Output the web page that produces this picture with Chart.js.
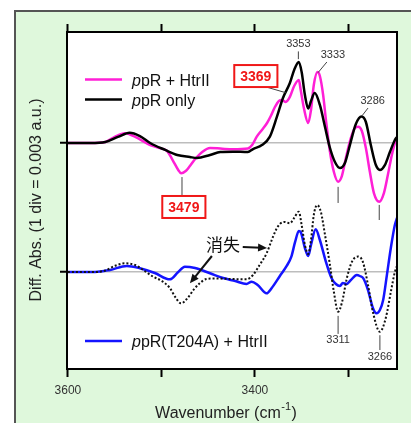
<!DOCTYPE html>
<html>
<head>
<meta charset="utf-8">
<script src="https://cdn.jsdelivr.net/npm/chart.js@4.4.0/dist/chart.umd.min.js"></script>
<style>
  html, body { margin: 0; padding: 0; background: #fff; overflow: hidden; }
  #panel { position: absolute; left: 14px; top: 10px; width: 395px; height: 411px;
           background: #dff8dc; border-left: 2px solid #555; border-top: 2px solid #555; }
  #wrap { position: absolute; left: 0; top: 0; width: 411px; height: 423px; }
</style>
</head>
<body>
<div id="panel"></div>
<div id="wrap"><canvas id="c" width="411" height="423"></canvas></div>
<script>
// wavenumber (cm-1) and difference absorbance in divisions (1 div = 0.003 a.u.)
// upper pair is plotted on the baseline at 1 div, lower pair on 0
const xTicks = [3600, 3500, 3400, 3300]
const xTickLabels = ['3600', '', '3400', '']
const yTicks = [0, 1]

const ppROnlyWn = [3600,3576,3560,3546.5,3534,3523,3512,3496,3483,3469.5,3462,3448,3437,3423.5,3407.5,3402,3392.5,3384,3376.5,3370,3362.6,3358,3353,3350,3346.5,3343,3340,3336,3330.5,3325,3320,3314.4,3309,3303.7,3298.4,3292,3286,3281.3,3276,3270.6,3266.3,3261,3255.6,3250.3,3248]
const ppROnlyAbs = [1.00,1.00,1.008,1.047,1.080,1.054,1.000,0.946,0.907,0.891,0.884,0.907,0.930,0.933,0.930,0.953,0.984,1.049,1.202,1.349,1.465,1.566,1.628,1.550,1.372,1.267,1.326,1.388,1.295,1.124,0.969,0.853,0.806,0.845,0.984,1.147,1.205,1.163,0.984,0.829,0.791,0.829,0.930,1.023,1.047]

const ppRHtrIIWn = [3600,3576,3560,3550,3539,3528,3512,3502,3494,3488,3482,3479,3474,3469.5,3463,3456,3448,3437,3423.5,3407.5,3403,3398,3392.5,3387,3383,3378.6,3374.3,3371,3367,3362.6,3358,3353,3351,3347.6,3343,3340,3337,3333,3330.5,3327,3324,3320,3315.5,3311,3307,3302.7,3297.3,3293,3289.5,3285.6,3281.3,3277,3272.7,3267,3262,3257.8,3253.5,3250.3,3248]
const ppRHtrIIAbs = [1.00,1.00,1.008,1.047,1.075,1.047,0.984,0.961,0.938,0.868,0.791,0.765,0.783,0.822,0.884,0.933,0.961,0.957,0.951,0.957,0.984,1.049,1.101,1.155,1.209,1.279,1.326,1.333,1.318,1.357,1.442,1.488,1.411,1.271,1.155,1.256,1.450,1.550,1.519,1.372,1.178,0.946,0.775,0.700,0.744,0.884,1.039,1.116,1.126,1.093,0.961,0.775,0.612,0.545,0.612,0.752,0.907,1.000,1.039]

const dottedWn = [3600,3571,3560,3550,3539,3528,3518,3509,3499.5,3491,3484.5,3479,3472,3465,3459,3452,3443,3427,3409,3402,3395,3387.5,3382,3377.5,3373.3,3368,3362.6,3358,3353,3350,3346.5,3343,3340,3337,3333.4,3329.4,3325,3320,3315.5,3311,3307,3301.6,3296.3,3289.5,3284.5,3279,3273.8,3266.3,3260,3254.6,3250.3,3248]
const dottedAbs = [0,0,0.012,0.047,0.067,0.054,0.008,-0.036,-0.070,-0.124,-0.202,-0.243,-0.202,-0.132,-0.088,-0.054,-0.050,-0.054,-0.057,-0.023,0.054,0.145,0.248,0.326,0.372,0.388,0.378,0.419,0.467,0.364,0.209,0.140,0.248,0.442,0.519,0.465,0.287,0.067,-0.155,-0.308,-0.240,-0.047,0.078,0.120,0.078,-0.101,-0.310,-0.463,-0.357,-0.155,0.000,0.047]

const t204aWn = [3600,3571,3555,3537,3523,3507,3491,3482,3475,3464,3448,3434,3421,3409,3403.5,3397,3387.5,3382,3373.3,3366,3361,3357,3353,3351,3346.5,3343,3340,3335,3330.5,3324,3318,3313.4,3309,3306,3302,3297.3,3291,3287.7,3284,3279,3273.8,3270,3266.3,3262.8,3258.8,3254.6,3250.3,3248]
const t204aAbs = [0,0,0.016,0.047,0.029,-0.008,-0.057,0,0.041,0.031,-0.010,-0.047,-0.070,-0.093,-0.075,-0.101,-0.165,-0.124,-0.031,0.047,0.119,0.233,0.318,0.310,0.186,0.124,0.209,0.331,0.248,0.078,-0.049,-0.093,-0.109,-0.085,-0.093,-0.062,-0.023,-0.031,-0.049,-0.140,-0.279,-0.320,-0.295,-0.217,-0.023,0.186,0.364,0.419]

// peak labels: text position and leader line, in data coordinates
const peakLabels = [
    { text: '3353', at: [3353.5, 1.765], line: [[3353.5, 1.71], [3353.5, 1.65]] },
    { text: '3333', at: [3316.5, 1.680], line: [[3323, 1.628], [3332.5, 1.545]] },
    { text: '3286', at: [3274, 1.322], line: [[3279, 1.271], [3285.5, 1.21]] },
    { text: '3311', at: [3311, -0.53], line: [[3311, -0.34], [3311, -0.48]] },
    { text: '3266', at: [3266.3, -0.655], line: [[3266.3, -0.49], [3266.3, -0.605]] },
    { text: '', at: null, line: [[3311, 0.66], [3311, 0.535]] },
    { text: '', at: null, line: [[3267, 0.52], [3267, 0.403]] }
]
const boxLabels = [
    { text: '3369', at: [3399, 1.519], line: [[3395.5, 1.45], [3367, 1.39]] },
    { text: '3479', at: [3476, 0.504], line: [[3478, 0.59], [3478, 0.736]] }
]
const kieText = { text: '消失', at: [3434, 0.209] }
const kieArrows = [
    [[3413, 0.194], [3387, 0.186]],
    [[3446, 0.124], [3469.5, -0.088]]
]

const toXY = (wn, ab) => wn.map((w, i) => ({ x: w, y: ab[i] }))
const FONT = "'Liberation Sans', Arial, sans-serif"

const drawArrow = (ctx, x1, y1, x2, y2) => {
    const a = Math.atan2(y2 - y1, x2 - x1)
    ctx.beginPath()
    ctx.moveTo(x1, y1)
    ctx.lineTo(x2 - 6 * Math.cos(a), y2 - 6 * Math.sin(a))
    ctx.stroke()
    ctx.beginPath()
    ctx.moveTo(x2, y2)
    ctx.lineTo(x2 - 9 * Math.cos(a) + 4 * Math.sin(a), y2 - 9 * Math.sin(a) - 4 * Math.cos(a))
    ctx.lineTo(x2 - 9 * Math.cos(a) - 4 * Math.sin(a), y2 - 9 * Math.sin(a) + 4 * Math.cos(a))
    ctx.closePath()
    ctx.fill()
}

const legendItem = (ctx, left, y, color, rest) => {
    ctx.strokeStyle = color
    ctx.lineWidth = 2.5
    ctx.beginPath()
    ctx.moveTo(left, y)
    ctx.lineTo(left + 37, y)
    ctx.stroke()
    ctx.fillStyle = '#111'
    ctx.textAlign = 'left'
    ctx.textBaseline = 'alphabetic'
    ctx.font = 'italic 16px ' + FONT
    ctx.fillText('p', left + 47, y + 6.3)
    const w = ctx.measureText('p').width
    ctx.font = '16px ' + FONT
    ctx.fillText(rest, left + 47 + w, y + 6.3)
}

const decor = {
    id: 'decor',
    beforeDraw(chart) {
        const { ctx, chartArea: a } = chart
        ctx.save()
        ctx.fillStyle = '#fff'
        ctx.fillRect(a.left, a.top, a.right - a.left, a.bottom - a.top)
        ctx.restore()
    },
    afterDraw(chart) {
        const { ctx, chartArea: a } = chart
        const xs = chart.scales.x, ys = chart.scales.y
        const px = (p) => [xs.getPixelForValue(p[0]), ys.getPixelForValue(p[1])]
        ctx.save()
        // frame
        ctx.strokeStyle = '#000'
        ctx.lineWidth = 2
        ctx.strokeRect(a.left, a.top, a.right - a.left, a.bottom - a.top)

        // peak labels
        ctx.strokeStyle = '#444'
        ctx.lineWidth = 1
        ctx.fillStyle = '#333'
        ctx.font = '11px ' + FONT
        ctx.textAlign = 'center'
        ctx.textBaseline = 'middle'
        peakLabels.forEach(l => {
            const [p1, p2] = [px(l.line[0]), px(l.line[1])]
            ctx.beginPath(); ctx.moveTo(p1[0], p1[1]); ctx.lineTo(p2[0], p2[1]); ctx.stroke()
            if (l.at) { const p = px(l.at); ctx.fillText(l.text, p[0], p[1]) }
        })

        // boxed red labels
        boxLabels.forEach(l => {
            const [p1, p2] = [px(l.line[0]), px(l.line[1])]
            ctx.strokeStyle = '#444'
            ctx.lineWidth = 1
            ctx.beginPath(); ctx.moveTo(p1[0], p1[1]); ctx.lineTo(p2[0], p2[1]); ctx.stroke()
            const p = px(l.at)
            ctx.font = 'bold 14px ' + FONT
            const w = ctx.measureText(l.text).width + 12
            ctx.fillStyle = '#fff'
            ctx.fillRect(p[0] - w / 2, p[1] - 11, w, 22)
            ctx.strokeStyle = '#f01818'
            ctx.lineWidth = 2
            ctx.strokeRect(p[0] - w / 2, p[1] - 11, w, 22)
            ctx.fillStyle = '#f01818'
            ctx.fillText(l.text, p[0], p[1] + 1)
        })

        // 消失 with arrows
        ctx.fillStyle = '#111'
        ctx.strokeStyle = '#111'
        ctx.lineWidth = 2
        ctx.font = "17px 'Noto Sans CJK JP', sans-serif"
        const kp = px(kieText.at)
        ctx.fillText(kieText.text, kp[0], kp[1])
        kieArrows.forEach(ar => {
            const [p1, p2] = [px(ar[0]), px(ar[1])]
            drawArrow(ctx, p1[0], p1[1], p2[0], p2[1])
        })

        // legends
        legendItem(ctx, a.left + 18, a.top + 47.5, '#ff1fd6', 'pR + HtrII')
        legendItem(ctx, a.left + 18, a.top + 67.5, '#000', 'pR only')
        legendItem(ctx, a.left + 18, a.top + 309, '#1414ff', 'pR(T204A) + HtrII')

        // axis titles
        ctx.fillStyle = '#222'
        ctx.textBaseline = 'alphabetic'
        ctx.textAlign = 'left'
        ctx.font = '16px ' + FONT
        const t1 = 'Wavenumber (cm'
        const w1 = ctx.measureText(t1).width
        ctx.font = '11px ' + FONT
        const w2 = ctx.measureText('-1').width
        ctx.font = '16px ' + FONT
        const w3 = ctx.measureText(')').width
        let tx = 226 - (w1 + w2 + w3 + 1) / 2
        ctx.fillText(t1, tx, 418)
        ctx.font = '11px ' + FONT
        ctx.fillText('-1', tx + w1 + 0.5, 410)
        ctx.font = '16px ' + FONT
        ctx.fillText(')', tx + w1 + w2 + 1, 418)

        ctx.translate(41, 200)
        ctx.rotate(-Math.PI / 2)
        ctx.textAlign = 'center'
        ctx.fillText('Diff. Abs. (1 div = 0.003 a.u.)', 0, 0)
        ctx.restore()
    }
}

const tickGrid = { drawOnChartArea: false, tickLength: 8, tickWidth: 2, tickColor: '#000' }

new Chart(document.getElementById('c'), {
    type: 'line',
    data: {
        datasets: [
            { data: toXY(dottedWn, dottedAbs), borderColor: '#111', borderWidth: 2, borderDash: [2, 2] },
            { data: toXY(t204aWn, t204aAbs), borderColor: '#1414ff', borderWidth: 2.5 },
            { data: toXY(ppROnlyWn, ppROnlyAbs), borderColor: '#000', borderWidth: 2.5 },
            { data: toXY(ppRHtrIIWn, ppRHtrIIAbs), borderColor: '#ff1fd6', borderWidth: 2.5 }
        ]
    },
    options: {
        responsive: false,
        animation: false,
        devicePixelRatio: 1,
        layout: { padding: { left: 0, top: 0, right: 14, bottom: 0 } },
        elements: { point: { radius: 0 }, line: { cubicInterpolationMode: 'monotone' } },
        plugins: { legend: { display: false }, tooltip: { enabled: false } },
        scales: {
            x: {
                type: 'linear', position: 'bottom', reverse: true, min: 3248, max: 3601,
                afterBuildTicks: s => { s.ticks = xTicks.map(v => ({ value: v })) },
                afterFit: s => { s.height = 54 },
                ticks: {
                    callback: v => xTickLabels[xTicks.indexOf(v)],
                    font: { size: 12, family: FONT }, color: '#333', padding: 6, maxRotation: 0, autoSkip: false
                },
                grid: tickGrid,
                border: { display: false }
            },
            x2: {
                type: 'linear', position: 'top', reverse: true, min: 3248, max: 3601,
                afterBuildTicks: s => { s.ticks = xTicks.map(v => ({ value: v })) },
                afterFit: s => { s.height = 32 },
                ticks: { display: false },
                grid: tickGrid,
                border: { display: false }
            },
            y: {
                min: -0.752, max: 1.8605,
                afterBuildTicks: s => { s.ticks = yTicks.map(v => ({ value: v })) },
                afterFit: s => { s.width = 67 },
                ticks: { display: false },
                grid: { color: '#bdbdbd', lineWidth: 1.5, tickLength: 7, tickWidth: 2, tickColor: '#000' },
                border: { display: false }
            }
        }
    },
    plugins: [decor]
})
</script>
</body>
</html>
